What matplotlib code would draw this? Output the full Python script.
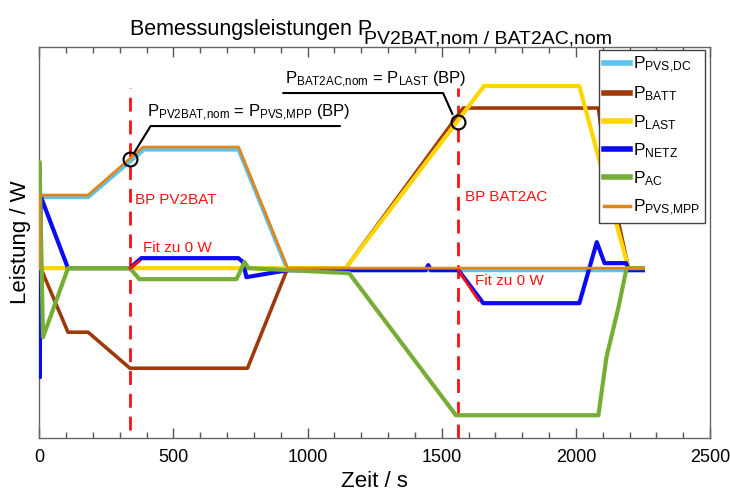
import matplotlib
matplotlib.use("Agg")
import matplotlib.pyplot as plt
from matplotlib.ticker import MultipleLocator

plt.rcParams['font.family'] = ['Liberation Sans', 'DejaVu Sans']
plt.rcParams['mathtext.fontset'] = 'custom'
plt.rcParams['mathtext.rm'] = 'Liberation Sans'
plt.rcParams['mathtext.it'] = 'Liberation Sans'
plt.rcParams['mathtext.bf'] = 'Liberation Sans'

# ---------------- data (time in s, power in W) ----------------
t_pvs_dc = [0, 3, 182, 390, 743, 926, 2250]
p_pvs_dc = [0, 710, 710, 1185, 1185, -20, -20]

t_batt = [0, 12, 107, 182, 338, 776, 926, 1142, 1580, 2084, 2107, 2196, 2250]
p_batt = [0, -40, -640, -640, -1000, -1000, 0, 0, 1600, 1600, 1110, 0, 0]

t_last = [0, 1142, 1658, 2013, 2196, 2250]
p_last = [0, 0, 1820, 1820, 0, 0]

t_netz = [0, 2, 5, 107, 338, 380, 742, 760, 772, 926, 1440, 1450, 1460, 1562, 1655, 2013, 2078, 2107, 2188, 2196, 2250]
p_netz = [0, -1090, 720, 0, 0, 100, 100, 60, -90, -20, -20, 30, -20, -20, -350, -350, 260, 50, 50, -20, -20]

t_ac = [0, 1, 14, 107, 338, 373, 735, 765, 780, 1155, 1553, 2084, 2114, 2159, 2189, 2250]
p_ac = [0, 1060, -690, 0, 0, -110, -110, 60, 0, -50, -1470, -1470, -890, -390, 0, 0]

t_pvs_mpp = [0, 2, 182, 387, 743, 926, 2250]
p_pvs_mpp = [0, 730, 730, 1210, 1210, 0, 0]

# fit segments ("Fit zu 0 W")
t_fit1 = [338, 373]
p_fit1 = [0, 70]
t_fit2 = [1562, 1637]
p_fit2 = [-20, -320]

# breakpoints
bp_pv2bat_t, bp_pv2bat_p = 338, 1090
bp_bat2ac_t, bp_bat2ac_p = 1560, 1460

xticks = [0, 500, 1000, 1500, 2000, 2500]

# ---------------- figure ----------------
fig = plt.figure(figsize=(7.30, 4.93), dpi=100)
ax = fig.add_axes([0.0538, 0.1120, 0.9188, 0.7927])

c_dc = '#5BC3EE'
c_batt = '#9E3A0A'
c_last = '#FFD500'
c_netz = '#0A0AF5'
c_ac = '#76AD35'
c_mpp = '#E0861C'

ax.plot(t_pvs_dc, p_pvs_dc, color=c_dc, lw=3.0, label=r'$\mathrm{P}_{\mathrm{PVS{,}DC}}$', zorder=3)
ax.plot(t_batt, p_batt, color=c_batt, lw=2.6, label=r'$\mathrm{P}_{\mathrm{BATT}}$', zorder=3)
ax.plot(t_last, p_last, color=c_last, lw=3.0, label=r'$\mathrm{P}_{\mathrm{LAST}}$', zorder=3)
ax.plot(t_netz, p_netz, color=c_netz, lw=3.0, label=r'$\mathrm{P}_{\mathrm{NETZ}}$', zorder=3)
ax.plot(t_ac, p_ac, color=c_ac, lw=3.0, label=r'$\mathrm{P}_{\mathrm{AC}}$', zorder=3)
ax.plot(t_pvs_mpp, p_pvs_mpp, color=c_mpp, lw=2.0, label=r'$\mathrm{P}_{\mathrm{PVS{,}MPP}}$', zorder=4)

ax.plot(t_fit1, p_fit1, color='#FF1010', lw=2.0, zorder=5)
ax.plot(t_fit2, p_fit2, color='#FF1010', lw=2.0, zorder=5)

# dashed breakpoint lines
ax.plot([bp_pv2bat_t, bp_pv2bat_t], [-1620, 1800], color='#FF1010', lw=2.0,
        dashes=(5, 3.2), zorder=2)
ax.plot([bp_bat2ac_t, bp_bat2ac_t], [-1700, 1800], color='#FF1010', lw=2.0,
        dashes=(5, 3.2), zorder=2)

# circles at breakpoints
ax.plot([bp_pv2bat_t], [bp_pv2bat_p], marker='o', ms=10, mfc='none', mec='black', mew=1.5, zorder=6)
ax.plot([bp_bat2ac_t], [bp_bat2ac_p], marker='o', ms=10, mfc='none', mec='black', mew=1.5, zorder=6)

# leader lines
ax.plot([bp_pv2bat_t + 15, 415, 1120], [bp_pv2bat_p + 60, 1420, 1420], color='black', lw=1.5, zorder=6)
ax.plot([bp_bat2ac_t - 20, 1505, 910], [bp_bat2ac_p + 80, 1750, 1750], color='black', lw=1.5, zorder=6)

# annotation texts
ax.text(400, 1510, r'$\mathrm{P}_{\mathrm{PV2BAT{,}nom}}$ = $\mathrm{P}_{\mathrm{PVS{,}MPP}}$ (BP)',
        fontsize=12, ha='left', va='baseline', color='black')
ax.text(915, 1840, r'$\mathrm{P}_{\mathrm{BAT2AC{,}nom}}$ = $\mathrm{P}_{\mathrm{LAST}}$ (BP)',
        fontsize=12, ha='left', va='baseline', color='black')

ax.text(358, 680, 'BP PV2BAT', color='#FF1010', fontsize=11, ha='left', va='center')
ax.text(1585, 710, 'BP BAT2AC', color='#FF1010', fontsize=11, ha='left', va='center')
ax.text(388, 200, 'Fit zu 0 W', color='#FF1010', fontsize=11, ha='left', va='center')
ax.text(1625, -130, 'Fit zu 0 W', color='#FF1010', fontsize=11, ha='left', va='center')

# axes style
ax.set_xlim(0, 2500)
ax.set_ylim(-1695, 2210)
ax.set_xticks(xticks)
ax.set_xticklabels([str(v) for v in xticks], fontsize=13)
ax.xaxis.set_minor_locator(MultipleLocator(100))
ax.tick_params(axis='x', which='major', direction='in', length=7, width=1, color='#555555',
               top=True, pad=8)
ax.tick_params(axis='x', which='minor', direction='in', length=4, width=1, color='#555555', top=True)
ax.set_yticks([])
for s in ax.spines.values():
    s.set_color('#666666')
    s.set_linewidth(1.0)

ax.set_xlabel('Zeit / s', fontsize=16, labelpad=4)
ax.set_ylabel('Leistung / W', fontsize=16, labelpad=6)

# title: main part + lowered subscript
fig.text(130 / 730, 1 - 35 / 493, 'Bemessungsleistungen P', fontsize=15.5,
         ha='left', va='baseline')
fig.text(364 / 730, 1 - 44 / 493, 'PV2BAT,nom / BAT2AC,nom', fontsize=14,
         ha='left', va='baseline')

leg = ax.legend(loc='upper right', bbox_to_anchor=(0.993, 0.993), fontsize=12.5,
                frameon=True, fancybox=False, edgecolor='#444444', framealpha=1,
                handlelength=1.5, handletextpad=0.15, borderpad=0.3, labelspacing=0.55,
                borderaxespad=0.0)
leg.get_frame().set_linewidth(1.0)
for line in leg.get_lines():
    line.set_linewidth(4)
leg.get_lines()[-1].set_linewidth(2.5)

fig.savefig('out.png', dpi=100)
